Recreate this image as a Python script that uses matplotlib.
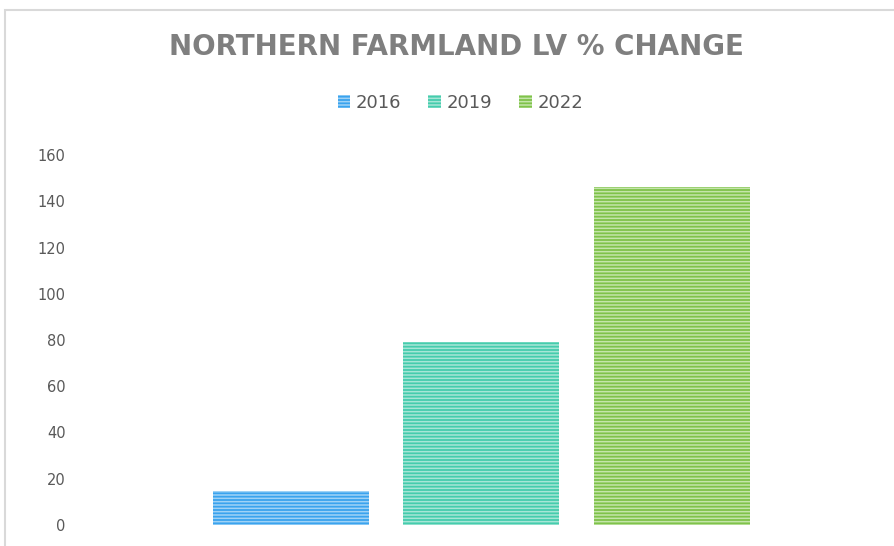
import matplotlib.pyplot as plt
from matplotlib.patches import Rectangle

years = ["2016", "2019", "2022"]
values = [14.5, 79, 146]
colors = ["#3aa3ee", "#45ccad", "#7fc24a"]
stripe_colors = ["#9fd2f6", "#a6e6d6", "#c4e5aa"]

plt.rcParams['hatch.linewidth'] = 1.1

fig = plt.figure(figsize=(8.94, 5.46), dpi=100)
ax = fig.add_axes([0.1, 21 / 546, 0.9, 370 / 546])

for i in range(len(years)):
    ax.bar(i, values[i], width=0.82, color=colors[i], edgecolor=stripe_colors[i],
           linewidth=0, hatch="-----", label=years[i])

ax.set_ylim(0, 160)
ax.set_xlim(-1.058, 3.168)
ax.set_yticks(range(0, 161, 20))
ax.set_xticks([])
for s in ax.spines.values():
    s.set_visible(False)
ax.tick_params(axis='y', length=0, labelsize=10.5, labelcolor="#595959", pad=17)

# frame of the chart area
fig.add_artist(Rectangle((5 / 894, -0.1), 1.2, 1.1 - 10 / 546, transform=fig.transFigure,
                         fill=False, edgecolor="#d9d9d9", linewidth=1.5))

fig.text(0.511, 1 - 47 / 546, "NORTHERN FARMLAND LV % CHANGE", ha="center", va="center",
         fontsize=20, fontweight="bold", color="#7f7f7f")

leg = fig.legend(loc="center", bbox_to_anchor=(0.515, 1 - 103 / 546), ncol=3, frameon=False,
                 fontsize=13, handlelength=0.7, handleheight=0.7, handletextpad=0.3,
                 columnspacing=1.5, labelcolor="#595959")

fig.savefig("out.png", dpi=100)
